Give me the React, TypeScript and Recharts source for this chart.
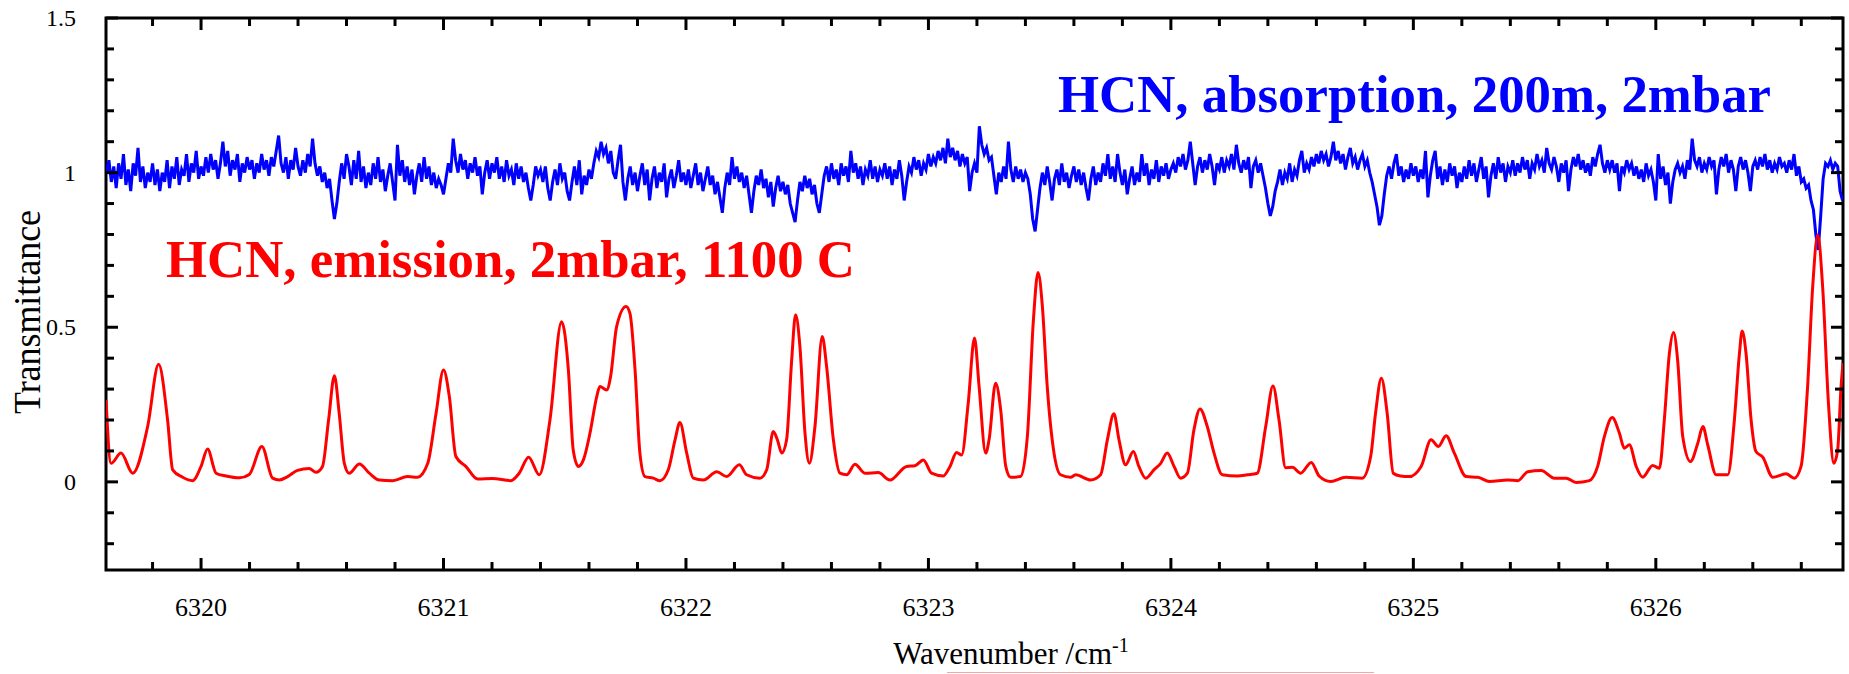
import { LineChart, Line, XAxis, YAxis, ReferenceArea } from "recharts";

// HCN emission spectrum (2 mbar, 1100 C), [wavenumber, signal]
const emission: [number, number][] = [
  [6319.608, 0.265], [6319.629, 0.06], [6319.67, 0.093], [6319.718, 0.028], [6319.78, 0.18],
  [6319.825, 0.38], [6319.862, 0.2], [6319.883, 0.039], [6319.924, 0.015], [6319.965, 0.004],
  [6320.0, 0.05], [6320.027, 0.106], [6320.062, 0.028], [6320.103, 0.019], [6320.158, 0.013],
  [6320.199, 0.024], [6320.251, 0.114], [6320.295, 0.012], [6320.323, 0.006], [6320.357, 0.017],
  [6320.398, 0.037], [6320.446, 0.043], [6320.474, 0.031], [6320.501, 0.05], [6320.526, 0.2],
  [6320.55, 0.343], [6320.57, 0.22], [6320.591, 0.06], [6320.611, 0.028], [6320.653, 0.058],
  [6320.694, 0.028], [6320.735, 0.006], [6320.79, 0.004], [6320.852, 0.017], [6320.893, 0.015],
  [6320.935, 0.06], [6320.969, 0.22], [6321.0, 0.362], [6321.024, 0.276], [6321.051, 0.082],
  [6321.092, 0.05], [6321.141, 0.009], [6321.202, 0.011], [6321.278, 0.004], [6321.312, 0.028],
  [6321.351, 0.08], [6321.395, 0.023], [6321.439, 0.2], [6321.487, 0.518], [6321.515, 0.362],
  [6321.535, 0.103], [6321.556, 0.05], [6321.577, 0.071], [6321.604, 0.157], [6321.632, 0.276],
  [6321.645, 0.308], [6321.673, 0.297], [6321.689, 0.34], [6321.714, 0.502], [6321.753, 0.567],
  [6321.769, 0.545], [6321.79, 0.362], [6321.81, 0.093], [6321.831, 0.017], [6321.865, 0.012],
  [6321.893, 0.004], [6321.927, 0.039], [6321.955, 0.136], [6321.975, 0.192], [6322.003, 0.093],
  [6322.03, 0.012], [6322.072, 0.006], [6322.127, 0.033], [6322.168, 0.017], [6322.22, 0.055],
  [6322.25, 0.023], [6322.305, 0.012], [6322.333, 0.039], [6322.36, 0.163], [6322.377, 0.136],
  [6322.395, 0.093], [6322.415, 0.136], [6322.436, 0.394], [6322.452, 0.54], [6322.47, 0.437],
  [6322.491, 0.157], [6322.509, 0.06], [6322.532, 0.179], [6322.562, 0.47], [6322.58, 0.373],
  [6322.608, 0.136], [6322.635, 0.028], [6322.663, 0.023], [6322.697, 0.057], [6322.738, 0.028],
  [6322.793, 0.03], [6322.841, 0.006], [6322.91, 0.05], [6322.944, 0.052], [6322.979, 0.071],
  [6323.013, 0.028], [6323.061, 0.019], [6323.089, 0.05], [6323.116, 0.095], [6323.137, 0.087],
  [6323.164, 0.254], [6323.19, 0.465], [6323.209, 0.308], [6323.236, 0.093], [6323.25, 0.136],
  [6323.277, 0.319], [6323.298, 0.233], [6323.319, 0.05], [6323.339, 0.015], [6323.38, 0.017],
  [6323.408, 0.147], [6323.433, 0.524], [6323.452, 0.677], [6323.47, 0.567], [6323.49, 0.308],
  [6323.518, 0.093], [6323.545, 0.023], [6323.587, 0.015], [6323.607, 0.023], [6323.669, 0.006],
  [6323.71, 0.023], [6323.738, 0.136], [6323.765, 0.22], [6323.786, 0.136], [6323.813, 0.055],
  [6323.845, 0.098], [6323.868, 0.05], [6323.896, 0.012], [6323.93, 0.039], [6323.958, 0.06],
  [6323.985, 0.093], [6324.013, 0.05], [6324.04, 0.012], [6324.068, 0.028], [6324.095, 0.168],
  [6324.12, 0.236], [6324.15, 0.179], [6324.178, 0.093], [6324.212, 0.023], [6324.274, 0.019],
  [6324.315, 0.023], [6324.356, 0.028], [6324.391, 0.179], [6324.421, 0.31], [6324.446, 0.2],
  [6324.473, 0.046], [6324.501, 0.047], [6324.535, 0.028], [6324.579, 0.063], [6324.611, 0.019],
  [6324.659, 0.001], [6324.721, 0.015], [6324.789, 0.012], [6324.824, 0.082], [6324.844, 0.222],
  [6324.868, 0.335], [6324.892, 0.222], [6324.917, 0.028], [6324.947, 0.019], [6324.982, 0.017],
  [6325.032, 0.05], [6325.073, 0.136], [6325.103, 0.114], [6325.135, 0.149], [6325.169, 0.093],
  [6325.218, 0.017], [6325.266, 0.015], [6325.314, 0.001], [6325.389, 0.006], [6325.431, 0.004],
  [6325.472, 0.033], [6325.527, 0.037], [6325.582, 0.012], [6325.63, 0.012], [6325.671, -0.002],
  [6325.726, 0.004], [6325.76, 0.05], [6325.788, 0.147], [6325.82, 0.208], [6325.85, 0.157],
  [6325.87, 0.109], [6325.891, 0.12], [6325.919, 0.05], [6325.946, 0.015], [6325.987, 0.053],
  [6326.015, 0.044], [6326.035, 0.2], [6326.056, 0.416], [6326.073, 0.483], [6326.09, 0.394],
  [6326.111, 0.147], [6326.143, 0.066], [6326.173, 0.125], [6326.194, 0.179], [6326.214, 0.12],
  [6326.249, 0.023], [6326.297, 0.023], [6326.324, 0.2], [6326.345, 0.416], [6326.356, 0.488],
  [6326.372, 0.416], [6326.393, 0.2], [6326.413, 0.098], [6326.441, 0.08], [6326.482, 0.015],
  [6326.537, 0.026], [6326.571, 0.012], [6326.599, 0.05], [6326.626, 0.308], [6326.647, 0.631],
  [6326.668, 0.798], [6326.688, 0.631], [6326.712, 0.254], [6326.734, 0.06], [6326.75, 0.103],
  [6326.764, 0.308], [6326.772, 0.384],
];

// HCN absorption (200 m, 2 mbar), sampled every 0.01 cm-1 from 6319.61
const absorptionStart = 6319.61;
const absorptionStep = 0.01;
const absorption = [
  1.0, 1.04, 0.97, 1.02, 0.95, 1.03, 0.98, 1.06, 0.96, 1.01, 0.94, 1.03, 0.99, 1.08, 0.97, 1.02, 0.95, 1.0, 0.97, 1.03,
  0.96, 1.01, 0.94, 1.0, 0.97, 1.04, 0.95, 1.02, 0.98, 1.05, 0.96, 1.01, 0.99, 1.06, 0.97, 1.03, 1.0, 1.07, 0.98, 1.02,
  0.99, 1.05, 1.0, 1.06, 1.01, 1.04, 0.98, 1.03, 1.1, 1.02, 1.07, 0.99, 1.04, 1.01, 1.06, 0.97, 1.03, 1.0, 1.05, 1.01,
  1.04, 0.98, 1.03, 1.0, 1.06, 1.01, 1.04, 0.99, 1.05, 1.02, 1.07, 1.12, 1.03, 1.0, 1.05, 0.98, 1.04, 1.01, 1.08, 1.02,
  0.99, 1.04, 1.0, 1.06, 1.02, 1.11, 1.03, 0.99, 1.02, 0.97, 1.0, 0.95, 0.98, 0.91, 0.85, 0.9, 0.97, 1.03, 0.98, 1.06,
  1.02, 0.96, 1.04, 0.98, 1.07, 0.97, 1.02, 0.95, 1.0, 0.96, 1.03, 0.98, 1.05, 0.97, 1.01, 0.94, 0.99, 1.03, 0.97, 0.91,
  1.09, 0.99, 1.04, 0.97, 1.02, 0.96, 1.01, 0.93, 0.99, 1.03, 0.97, 1.05, 0.98, 1.02, 0.96, 1.0, 0.95, 0.98, 0.96, 0.93,
  0.98, 1.03, 1.0, 1.11, 1.04, 1.0, 1.06, 1.01, 1.04, 0.98, 1.03, 1.0, 1.05, 0.99, 1.02, 0.93, 1.0, 1.04, 0.98, 1.03,
  1.0, 1.05, 0.98, 1.02, 0.97, 1.04, 0.99, 1.01, 0.96, 1.03, 0.98, 1.02, 0.97, 1.0, 0.95, 0.91, 0.96, 1.02, 0.99, 1.01,
  0.97, 1.02, 0.95, 0.91, 0.97, 1.01, 0.96, 1.03, 0.98, 1.0, 0.94, 0.91, 0.97, 1.02, 0.96, 1.04, 0.93, 0.99, 0.96, 1.01,
  0.98, 1.03, 1.07, 1.05, 1.1, 1.06, 1.08, 1.03, 1.07, 1.0, 0.98, 1.04, 1.09, 0.97, 0.91, 0.98, 1.02, 0.96, 1.0, 0.94,
  0.99, 1.03, 0.96, 1.01, 0.91, 0.98, 1.02, 0.95, 1.0, 0.97, 1.03, 0.92, 0.98, 1.01, 0.95, 0.99, 1.04, 0.97, 1.0, 0.96,
  1.01, 0.95, 0.99, 1.03, 0.96, 1.0, 0.94, 0.98, 1.02, 0.96, 0.99, 0.93, 0.97, 0.92, 0.87, 0.95, 1.0, 0.96, 1.05, 0.98,
  1.02, 0.97, 1.0, 0.95, 0.99, 0.93, 0.87, 0.94, 0.99, 0.96, 1.01, 0.95, 0.98, 0.92, 0.97, 0.89, 0.95, 0.99, 0.94, 0.97,
  0.93, 0.96, 0.9, 0.87, 0.84, 0.91, 0.97, 0.94, 0.99, 0.95, 0.98, 0.93, 0.96, 0.9, 0.87, 0.93, 0.99, 1.02, 0.97, 1.03,
  0.98, 1.01, 0.96, 1.03, 0.99, 1.02, 0.97, 1.07, 1.0, 1.03, 0.98, 1.02, 0.96, 1.01, 0.99, 1.04, 0.98, 1.02, 0.97, 1.01,
  0.99, 1.03, 0.98, 1.02, 0.96, 1.01, 0.98, 1.04, 0.99, 0.91, 0.97, 1.02, 1.0, 1.05, 1.01, 1.04, 0.99, 1.03, 1.01, 1.06,
  1.02, 1.05, 1.03, 1.07, 1.04, 1.08, 1.03, 1.11, 1.05, 1.08, 1.04, 1.07, 1.02, 1.06, 1.03, 1.05, 0.94, 1.0, 1.03, 1.0,
  1.15, 1.09, 1.06, 1.08, 1.04, 1.05, 0.99, 0.93, 1.0, 0.97, 1.02, 0.98, 1.1, 1.01, 0.97, 1.02, 0.98, 1.01, 0.97, 1.0,
  0.98, 0.93, 0.85, 0.81, 0.88, 0.95, 1.0, 0.96, 1.02, 0.97, 0.91, 0.98, 1.01, 0.96, 1.03, 0.97, 1.0, 0.95, 0.99, 1.02,
  0.97, 1.01, 0.96, 1.0, 0.95, 0.91, 0.98, 1.02, 0.96, 1.0, 0.97, 1.03, 0.99, 1.06, 0.98, 1.02, 0.97, 1.06, 1.0, 0.96,
  1.01, 0.93, 0.98, 1.02, 0.96, 1.0, 0.97, 1.06, 0.99, 1.03, 0.96, 1.01, 0.98, 1.04, 0.97, 1.02, 0.99, 1.03, 0.98, 1.01,
  1.03, 1.0, 1.05, 1.02, 1.06, 1.01, 1.04, 1.1, 1.03, 0.96, 1.02, 1.05, 1.0, 1.04, 1.01, 1.06, 1.02, 0.96, 1.03, 1.01,
  1.05, 1.0, 1.04, 1.02, 1.06, 1.01, 1.09, 1.03, 1.0, 1.04, 1.01, 1.05, 0.95, 1.02, 1.04, 1.0, 1.03, 0.99, 0.95, 0.9,
  0.86, 0.89, 0.94, 0.97, 1.01, 0.96, 1.0, 0.98, 1.03, 0.97, 1.01, 0.99, 1.04, 1.07, 1.0, 1.03, 1.01, 1.05, 1.02, 1.06,
  1.03, 1.07, 1.04, 1.06, 1.02, 1.05, 1.1, 1.04, 1.07, 1.03, 1.06, 1.01, 1.05, 1.08, 1.03, 1.05, 1.01, 1.04, 1.06, 1.02,
  1.04, 1.0, 0.97, 0.93, 0.89, 0.83, 0.86, 0.93, 0.99, 1.02, 0.98, 1.03, 1.06, 0.99, 1.02, 0.97, 1.01, 0.98, 1.03, 0.99,
  1.02, 0.97, 1.01, 0.98, 1.07, 0.92, 0.99, 1.04, 1.07, 0.98, 1.02, 0.96, 1.01, 0.97, 1.03, 0.99, 1.02, 0.95, 1.0, 0.97,
  1.02, 0.98, 1.04, 0.99, 1.03, 0.97, 1.01, 1.05, 0.98, 1.02, 0.92, 0.99, 1.03, 0.98, 1.05, 1.0, 1.03, 0.97, 1.02, 1.0,
  1.04, 0.99, 1.03, 1.0, 1.05, 1.01, 1.04, 0.98, 1.03, 1.01, 1.06, 1.02, 1.04, 1.0, 1.08, 1.03, 1.01, 1.05, 1.02, 0.97,
  1.03, 1.0, 1.04, 0.94, 1.01, 1.05, 1.02, 1.06, 1.01, 1.04, 1.0, 1.03, 0.99, 1.05, 1.02, 1.06, 1.09, 1.03, 1.0, 1.04,
  1.01, 1.04, 1.0, 1.03, 0.94, 1.02, 1.0, 1.04, 1.01, 1.03, 0.99, 1.02, 0.98, 1.01, 0.97, 1.03, 0.99, 1.01, 0.97, 0.91,
  1.06, 0.98, 1.02, 0.96, 1.0, 0.9, 0.97, 1.01, 1.03, 1.0, 1.02, 0.98, 1.04, 1.01, 1.11, 1.04, 1.02, 1.05, 1.0, 1.03,
  1.01, 1.05, 1.02, 1.04, 0.93, 1.01, 1.05, 1.02, 1.06, 1.0, 1.04, 1.01, 0.94, 1.02, 1.05, 1.01, 1.04, 1.0, 0.94, 1.02,
  1.04, 1.01, 1.05, 1.02, 1.06, 1.01, 1.04, 1.0, 1.03, 1.01, 1.05, 1.02, 1.03, 1.0, 1.04, 1.01, 1.06, 0.99, 1.02, 0.97,
  0.98, 0.95, 0.96, 0.91, 0.88, 0.8, 0.75, 0.86, 0.98, 1.03, 1.02, 1.04, 1.01, 1.03, 1.02, 0.94, 0.91,
];

const xTicks = [
  6319.8, 6320, 6320.2, 6320.4, 6320.6, 6320.8, 6321, 6321.2, 6321.4, 6321.6, 6321.8, 6322, 6322.2,
  6322.4, 6322.6, 6322.8, 6323, 6323.2, 6323.4, 6323.6, 6323.8, 6324, 6324.2, 6324.4, 6324.6, 6324.8,
  6325, 6325.2, 6325.4, 6325.6, 6325.8, 6326, 6326.2, 6326.4, 6326.6,
];
const yTicks = [-0.2, -0.1, 0, 0.1, 0.2, 0.3, 0.4, 0.5, 0.6, 0.7, 0.8, 0.9, 1, 1.1, 1.2, 1.3, 1.4, 1.5];

const X_DOMAIN: [number, number] = [6319.608, 6326.772];
const Y_DOMAIN: [number, number] = [-0.285, 1.5];

const W = 1849;
const H = 674;
const LEFT = 106;
const RIGHT = 1843;
const TOP = 18;
const BOTTOM = 570;
const FONT = "'Liberation Serif', 'Times New Roman', serif";

const emissionData = emission.map(([x, y]) => ({ x, y }));
const absorptionData = absorption.map((y, i) => ({
  x: Number((absorptionStart + i * absorptionStep).toFixed(2)),
  y,
}));

function XTick(props: any) {
  const { x, payload } = props;
  const v = payload.value as number;
  const major = Math.abs(v - Math.round(v)) < 1e-6;
  const len = major ? 12 : 8;
  return (
    <g>
      <line x1={x} x2={x} y1={BOTTOM} y2={BOTTOM - len} stroke="#000" strokeWidth={3} />
      <line x1={x} x2={x} y1={TOP} y2={TOP + len} stroke="#000" strokeWidth={3} />
      {major && (
        <text x={x} y={616} textAnchor="middle" fontFamily={FONT} fontSize={26} fill="#000">
          {Math.round(v)}
        </text>
      )}
    </g>
  );
}

function YTick(props: any) {
  const { y, payload } = props;
  const v = payload.value as number;
  const major = Math.abs(v * 2 - Math.round(v * 2)) < 1e-6;
  const len = major ? 12 : 8;
  return (
    <g>
      <line x1={LEFT} x2={LEFT + len} y1={y} y2={y} stroke="#000" strokeWidth={3} />
      <line x1={RIGHT} x2={RIGHT - len} y1={y} y2={y} stroke="#000" strokeWidth={3} />
      {major && (
        <text x={76} y={y + 8} textAnchor="end" fontFamily={FONT} fontSize={24} fill="#000">
          {String(Math.round(v * 10) / 10)}
        </text>
      )}
    </g>
  );
}

export default function App() {
  return (
    <div style={{ position: "absolute", left: 0, top: 0, width: W, height: H, background: "#fff" }}>
      <LineChart width={W} height={H} margin={{ top: TOP, right: W - RIGHT, bottom: 0, left: 0 }}>
        <XAxis
          dataKey="x"
          type="number"
          domain={X_DOMAIN}
          allowDataOverflow
          ticks={xTicks}
          interval={0}
          height={H - BOTTOM}
          axisLine={false}
          tickLine={false}
          tick={(p: any) => <XTick {...p} />}
        />
        <YAxis
          type="number"
          domain={Y_DOMAIN}
          allowDataOverflow
          ticks={yTicks}
          interval={0}
          width={LEFT}
          axisLine={false}
          tickLine={false}
          tick={(p: any) => <YTick {...p} />}
        />
        <ReferenceArea
          x1={X_DOMAIN[0]}
          x2={X_DOMAIN[1]}
          y1={Y_DOMAIN[0]}
          y2={Y_DOMAIN[1]}
          fill="none"
          fillOpacity={0}
          stroke="#000"
          strokeWidth={3}
        />
        <Line
          data={absorptionData}
          dataKey="y"
          type="linear"
          stroke="#0000ff"
          strokeWidth={3}
          dot={false}
          isAnimationActive={false}
        />
        <Line
          data={emissionData}
          dataKey="y"
          type="monotone"
          stroke="#ff0000"
          strokeWidth={3}
          dot={false}
          isAnimationActive={false}
        />
        <text x={1058} y={112} fontFamily={FONT} fontWeight="bold" fontSize={52} fill="#0000ff" textLength={713} lengthAdjust="spacingAndGlyphs">
          HCN, absorption, 200m, 2mbar
        </text>
        <text x={166} y={277} fontFamily={FONT} fontWeight="bold" fontSize={52} fill="#ff0000" textLength={689} lengthAdjust="spacingAndGlyphs">
          HCN, emission, 2mbar, 1100 C
        </text>
        <text transform="translate(40, 312) rotate(-90)" textAnchor="middle" fontFamily={FONT} fontSize={38} fill="#000" textLength={204} lengthAdjust="spacingAndGlyphs">
          Transmittance
        </text>
        <text x={1011} y={664} textAnchor="middle" fontFamily={FONT} fontSize={31} fill="#000">
          Wavenumber /cm
          <tspan dy={-12} fontSize={20}>-1</tspan>
        </text>
        <line x1={947} x2={1374} y1={672.5} y2={672.5} stroke="#f2a8a8" strokeWidth={1} />
      </LineChart>
    </div>
  );
}
